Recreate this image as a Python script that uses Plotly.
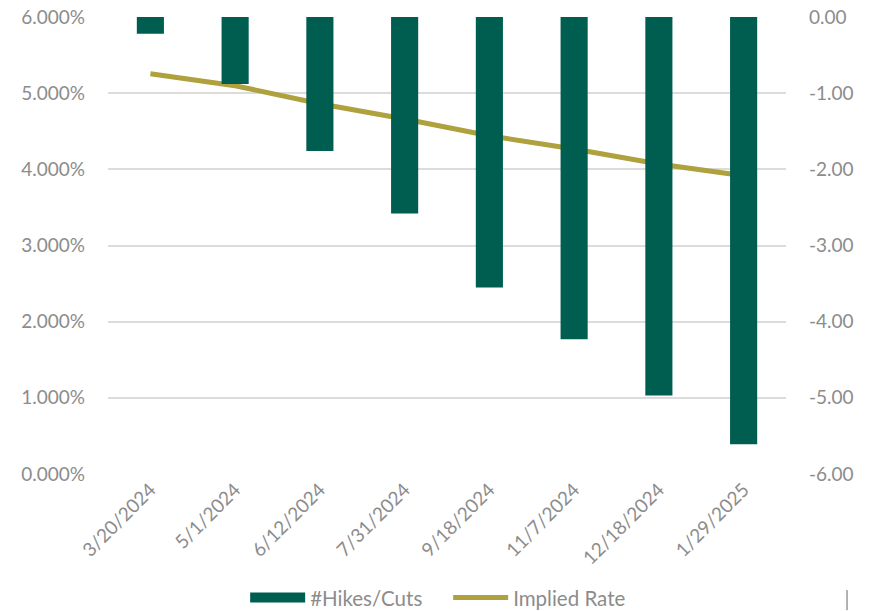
import plotly.graph_objects as go

dates = ["3/20/2024", "5/1/2024", "6/12/2024", "7/31/2024", "9/18/2024",
         "11/7/2024", "12/18/2024", "1/29/2025"]
hikes_cuts = [-0.22, -0.88, -1.76, -2.58, -3.55, -4.23, -4.97, -5.61]
implied_rate = [5.256, 5.098, 4.862, 4.660, 4.440, 4.268, 4.070, 3.917]

left_tickvals = [0, 1, 2, 3, 4, 5, 6]
left_ticktext = ["0.000%", "1.000%", "2.000%", "3.000%", "4.000%", "5.000%", "6.000%"]
right_tickvals = [0, -1, -2, -3, -4, -5, -6]
right_ticktext = ["0.00", "-1.00", "-2.00", "-3.00", "-4.00", "-5.00", "-6.00"]

GREEN = "#005E50"
GOLD = "#AFA13E"
GRAY = "#8C8C8C"
FONT = "Lato"
FS = 19

fig = go.Figure()
fig.add_trace(go.Bar(
    x=dates, y=hikes_cuts, yaxis="y2", marker=dict(color=GREEN, line=dict(width=0)),
    name="#Hikes/Cuts", showlegend=False,
))
fig.add_trace(go.Scatter(
    x=dates, y=implied_rate, mode="lines", yaxis="y",
    line=dict(color=GOLD, width=5), name="Implied Rate", showlegend=False,
))
# legend entries
fig.add_trace(go.Scatter(
    x=[None], y=[None], mode="lines", line=dict(color=GREEN, width=13),
    name="#Hikes/Cuts",
))
fig.add_trace(go.Scatter(
    x=[None], y=[None], mode="lines", line=dict(color=GOLD, width=5),
    name="Implied Rate",
))

fig.update_layout(
    width=877, height=611,
    margin=dict(l=108, r=91, t=17, b=137, autoexpand=False),
    paper_bgcolor="white", plot_bgcolor="white",
    font=dict(family=FONT, size=FS, color=GRAY),
    bargap=0.68,
    xaxis=dict(
        type="category", tickangle=-45, showgrid=False, showline=False,
        ticks="", tickfont=dict(family=FONT, size=FS, color=GRAY),
        automargin=False,
    ),
    yaxis=dict(
        range=[0, 6], tickvals=left_tickvals, ticktext=left_ticktext,
        showgrid=True, gridcolor="#DCDCDC", gridwidth=1.5,
        zeroline=False, showline=False, ticks="", ticklabelstandoff=22,
        tickfont=dict(family=FONT, size=FS, color=GRAY), automargin=False,
    ),
    yaxis2=dict(
        range=[-6, 0], tickvals=right_tickvals, ticktext=right_ticktext,
        overlaying="y", side="right", showgrid=False, zeroline=False,
        showline=False, ticks="", ticklabelstandoff=22,
        tickfont=dict(family=FONT, size=FS, color=GRAY), automargin=False,
    ),
    legend=dict(
        orientation="h", x=0.2023, xanchor="left", y=-0.227, yanchor="top",
        font=dict(family=FONT, size=20.5, color=GRAY), itemwidth=55,
        entrywidth=133, entrywidthmode="pixels",
        traceorder="normal",
    ),
    shapes=[dict(type="line", xref="paper", yref="paper",
                 x0=1.09, x1=1.09, y0=-0.254, y1=-0.298,
                 line=dict(color="#666666", width=1))],
)

fig.write_html("out.html")
